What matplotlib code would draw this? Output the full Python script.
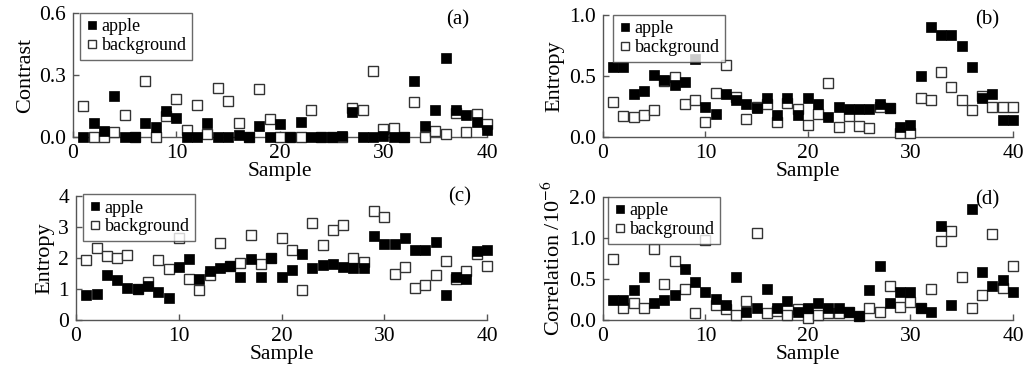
import numpy as np
import matplotlib
matplotlib.use("Agg")
import matplotlib.pyplot as plt

plt.rcParams["font.family"] = ["Liberation Serif", "DejaVu Serif"]
plt.rcParams["mathtext.fontset"] = "stix"

sample = np.arange(1, 41)

contrast_apple = [0, 0.07, 0.03, 0.20, 0, 0, 0.07, 0.05, 0.125, 0.09,
                  0, 0, 0.07, 0, 0, 0.01, 0, 0.055, 0, 0.065,
                  0, 0.075, 0, 0, 0, 0.005, 0.12, 0, 0, 0.005,
                  0, 0, 0.27, 0.055, 0.13, 0.38, 0.13, 0.105, 0.075, 0.035]
contrast_bg = [0.15, 0, 0, 0.025, 0.105, 0, 0.27, 0, 0.10, 0.185,
               0.035, 0.155, 0.015, 0.235, 0.175, 0.07, 0, 0.23, 0.085, 0,
               0, 0, 0.13, 0, 0, 0, 0.14, 0.13, 0.32, 0.04,
               0.045, 0, 0.17, 0, 0.03, 0.015, 0.115, 0.025, 0.11, 0.065]

entropy1_apple = [0.57, 0.57, 0.35, 0.38, 0.51, 0.47, 0.43, 0.45, 0.64, 0.25,
                  0.19, 0.35, 0.30, 0.27, 0.24, 0.32, 0.18, 0.32, 0.18, 0.32,
                  0.27, 0.16, 0.25, 0.23, 0.23, 0.23, 0.27, 0.235, 0.08, 0.095,
                  0.50, 0.90, 0.84, 0.84, 0.75, 0.57, 0.32, 0.35, 0.14, 0.14]
entropy1_bg = [0.29, 0.17, 0.16, 0.18, 0.22, 0.46, 0.49, 0.27, 0.30, 0.12,
               0.36, 0.59, 0.33, 0.15, 0.25, 0.27, 0.12, 0.28, 0.23, 0.10,
               0.19, 0.44, 0.08, 0.17, 0.09, 0.075, 0.25, 0.235, 0.03, 0.035,
               0.32, 0.30, 0.53, 0.41, 0.30, 0.22, 0.34, 0.25, 0.25, 0.25]

entropy2_apple = [0.81, 0.83, 1.45, 1.29, 1.02, 0.99, 1.11, 0.91, 0.70, 1.71,
                  1.96, 1.31, 1.58, 1.67, 1.75, 1.39, 1.97, 1.39, 2.01, 1.39,
                  1.61, 2.14, 1.69, 1.77, 1.81, 1.71, 1.69, 1.69, 2.70, 2.46,
                  2.46, 2.63, 2.25, 2.25, 2.53, 0.81, 1.38, 1.32, 2.23, 2.25]
entropy2_bg = [1.94, 2.31, 2.06, 2.01, 2.10, 0.99, 1.24, 1.94, 1.65, 2.63,
               1.31, 0.97, 1.45, 2.47, 1.75, 1.85, 2.74, 1.81, 2.01, 2.63,
               2.25, 0.96, 3.14, 2.42, 2.90, 3.06, 2.01, 1.88, 3.53, 3.32,
               1.48, 1.72, 1.02, 1.13, 1.45, 1.90, 1.32, 1.58, 2.12, 1.75]

corr_apple = [0.25, 0.25, 0.36, 0.52, 0.21, 0.25, 0.31, 0.62, 0.46, 0.34,
              0.26, 0.18, 0.52, 0.10, 0.15, 0.38, 0.15, 0.23, 0.10, 0.15,
              0.21, 0.15, 0.15, 0.10, 0.05, 0.36, 0.66, 0.21, 0.34, 0.34,
              0.15, 0.10, 1.30, 0.18, np.nan, 1.70, 0.59, 0.42, 0.49, 0.34]
corr_bg = [0.75, 0.15, 0.21, 0.15, 0.87, 0.44, 0.72, 0.38, 0.08, 0.98,
           0.18, 0.14, 0.06, 0.23, 1.12, 0.09, 0.11, 0.06, 0.14, 0.03,
           0.06, 0.09, 0.09, 0.10, 0.05, 0.15, 0.10, 0.41, 0.16, 0.22,
           0.15, 0.38, 0.96, 1.17, 0.53, 0.15, 0.30, 1.09, 0.39, 0.66]


# correlation axis is squeezed above 1.0
def fwd(y):
    y = np.asarray(y, dtype=float)
    return np.where(y <= 1, y, 1 + (y - 1) * 0.5)


def inv(t):
    t = np.asarray(t, dtype=float)
    return np.where(t <= 1, t, 1 + (t - 1) * 2)


def panel(ax, apple, bg, ylabel, tag, tagpos, yticks, yticklabels, ylim, leg_anchor):
    ax.plot(sample, bg, ls="none", marker="s", ms=7, mfc="white", mec="#333333",
            mew=1.0, clip_on=False, label="background", zorder=3)
    ax.plot(sample, apple, ls="none", marker="s", ms=7.5, mfc="black", mec="black",
            mew=0.5, clip_on=False, label="apple", zorder=4)
    ax.set_xlim(0, 40)
    ax.set_ylim(*ylim)
    ax.set_xticks([0, 10, 20, 30, 40])
    ax.set_yticks(yticks)
    ax.set_yticklabels(yticklabels)
    ax.minorticks_off()
    for s in ["top", "right"]:
        ax.spines[s].set_visible(False)
    for s in ["left", "bottom"]:
        ax.spines[s].set_color("#555555")
        ax.spines[s].set_linewidth(1.0)
    ax.tick_params(direction="in", length=4, width=1, colors="#555555",
                   labelcolor="black", labelsize=15.5, pad=5)
    ax.set_xlabel("Sample", fontsize=15.5, labelpad=-1)
    ax.set_ylabel(ylabel, fontsize=16, labelpad=3)
    ax.text(tagpos[0], tagpos[1], tag, transform=ax.transAxes, fontsize=15,
            ha="center", va="center")
    h, l = ax.get_legend_handles_labels()
    leg = ax.legend(h[::-1], l[::-1], loc="upper left", bbox_to_anchor=leg_anchor,
                    borderaxespad=0, fontsize=13, frameon=True, fancybox=False,
                    edgecolor="#444444", handlelength=0.7, handletextpad=0.2,
                    borderpad=0.3, labelspacing=0.1, markerscale=0.85)
    leg.get_frame().set_linewidth(1.0)
    leg.set_zorder(5)


fig = plt.figure(figsize=(10.26, 3.70), dpi=100)

ax1 = fig.add_axes([0.0711, 0.6297, 0.4035, 0.3351])
panel(ax1, contrast_apple, contrast_bg, "Contrast", "(a)", (0.93, 0.944),
      [0, 0.3, 0.6], ["0.0", "0.3", "0.6"], (0, 0.6), (0.017, 1.0))

ax2 = fig.add_axes([0.5877, 0.6297, 0.3996, 0.3297])
panel(ax2, entropy1_apple, entropy1_bg, "Entropy", "(b)", (0.937, 0.96),
      [0, 0.5, 1.0], ["0.0", "0.5", "1.0"], (0, 1.0), (0.024, 1.0))

ax3 = fig.add_axes([0.0741, 0.1351, 0.4006, 0.3351])
panel(ax3, entropy2_apple, entropy2_bg, "Entropy", "(c)", (0.934, 0.99),
      [0, 1, 2, 3, 4], ["0", "1", "2", "3", "4"], (0, 4), (0.017, 1.015))

ax4 = fig.add_axes([0.5877, 0.1351, 0.3996, 0.3324])
ax4.set_yscale("function", functions=(fwd, inv))
panel(ax4, corr_apple, corr_bg, r"Correlation /10$^{-6}$", "(d)", (0.937, 0.976),
      [0, 0.5, 1.0, 2.0], ["0.0", "0.5", "1.0", "2.0"], (0, 2.0), (0.012, 1.0))

fig.savefig("out.png", dpi=100)
